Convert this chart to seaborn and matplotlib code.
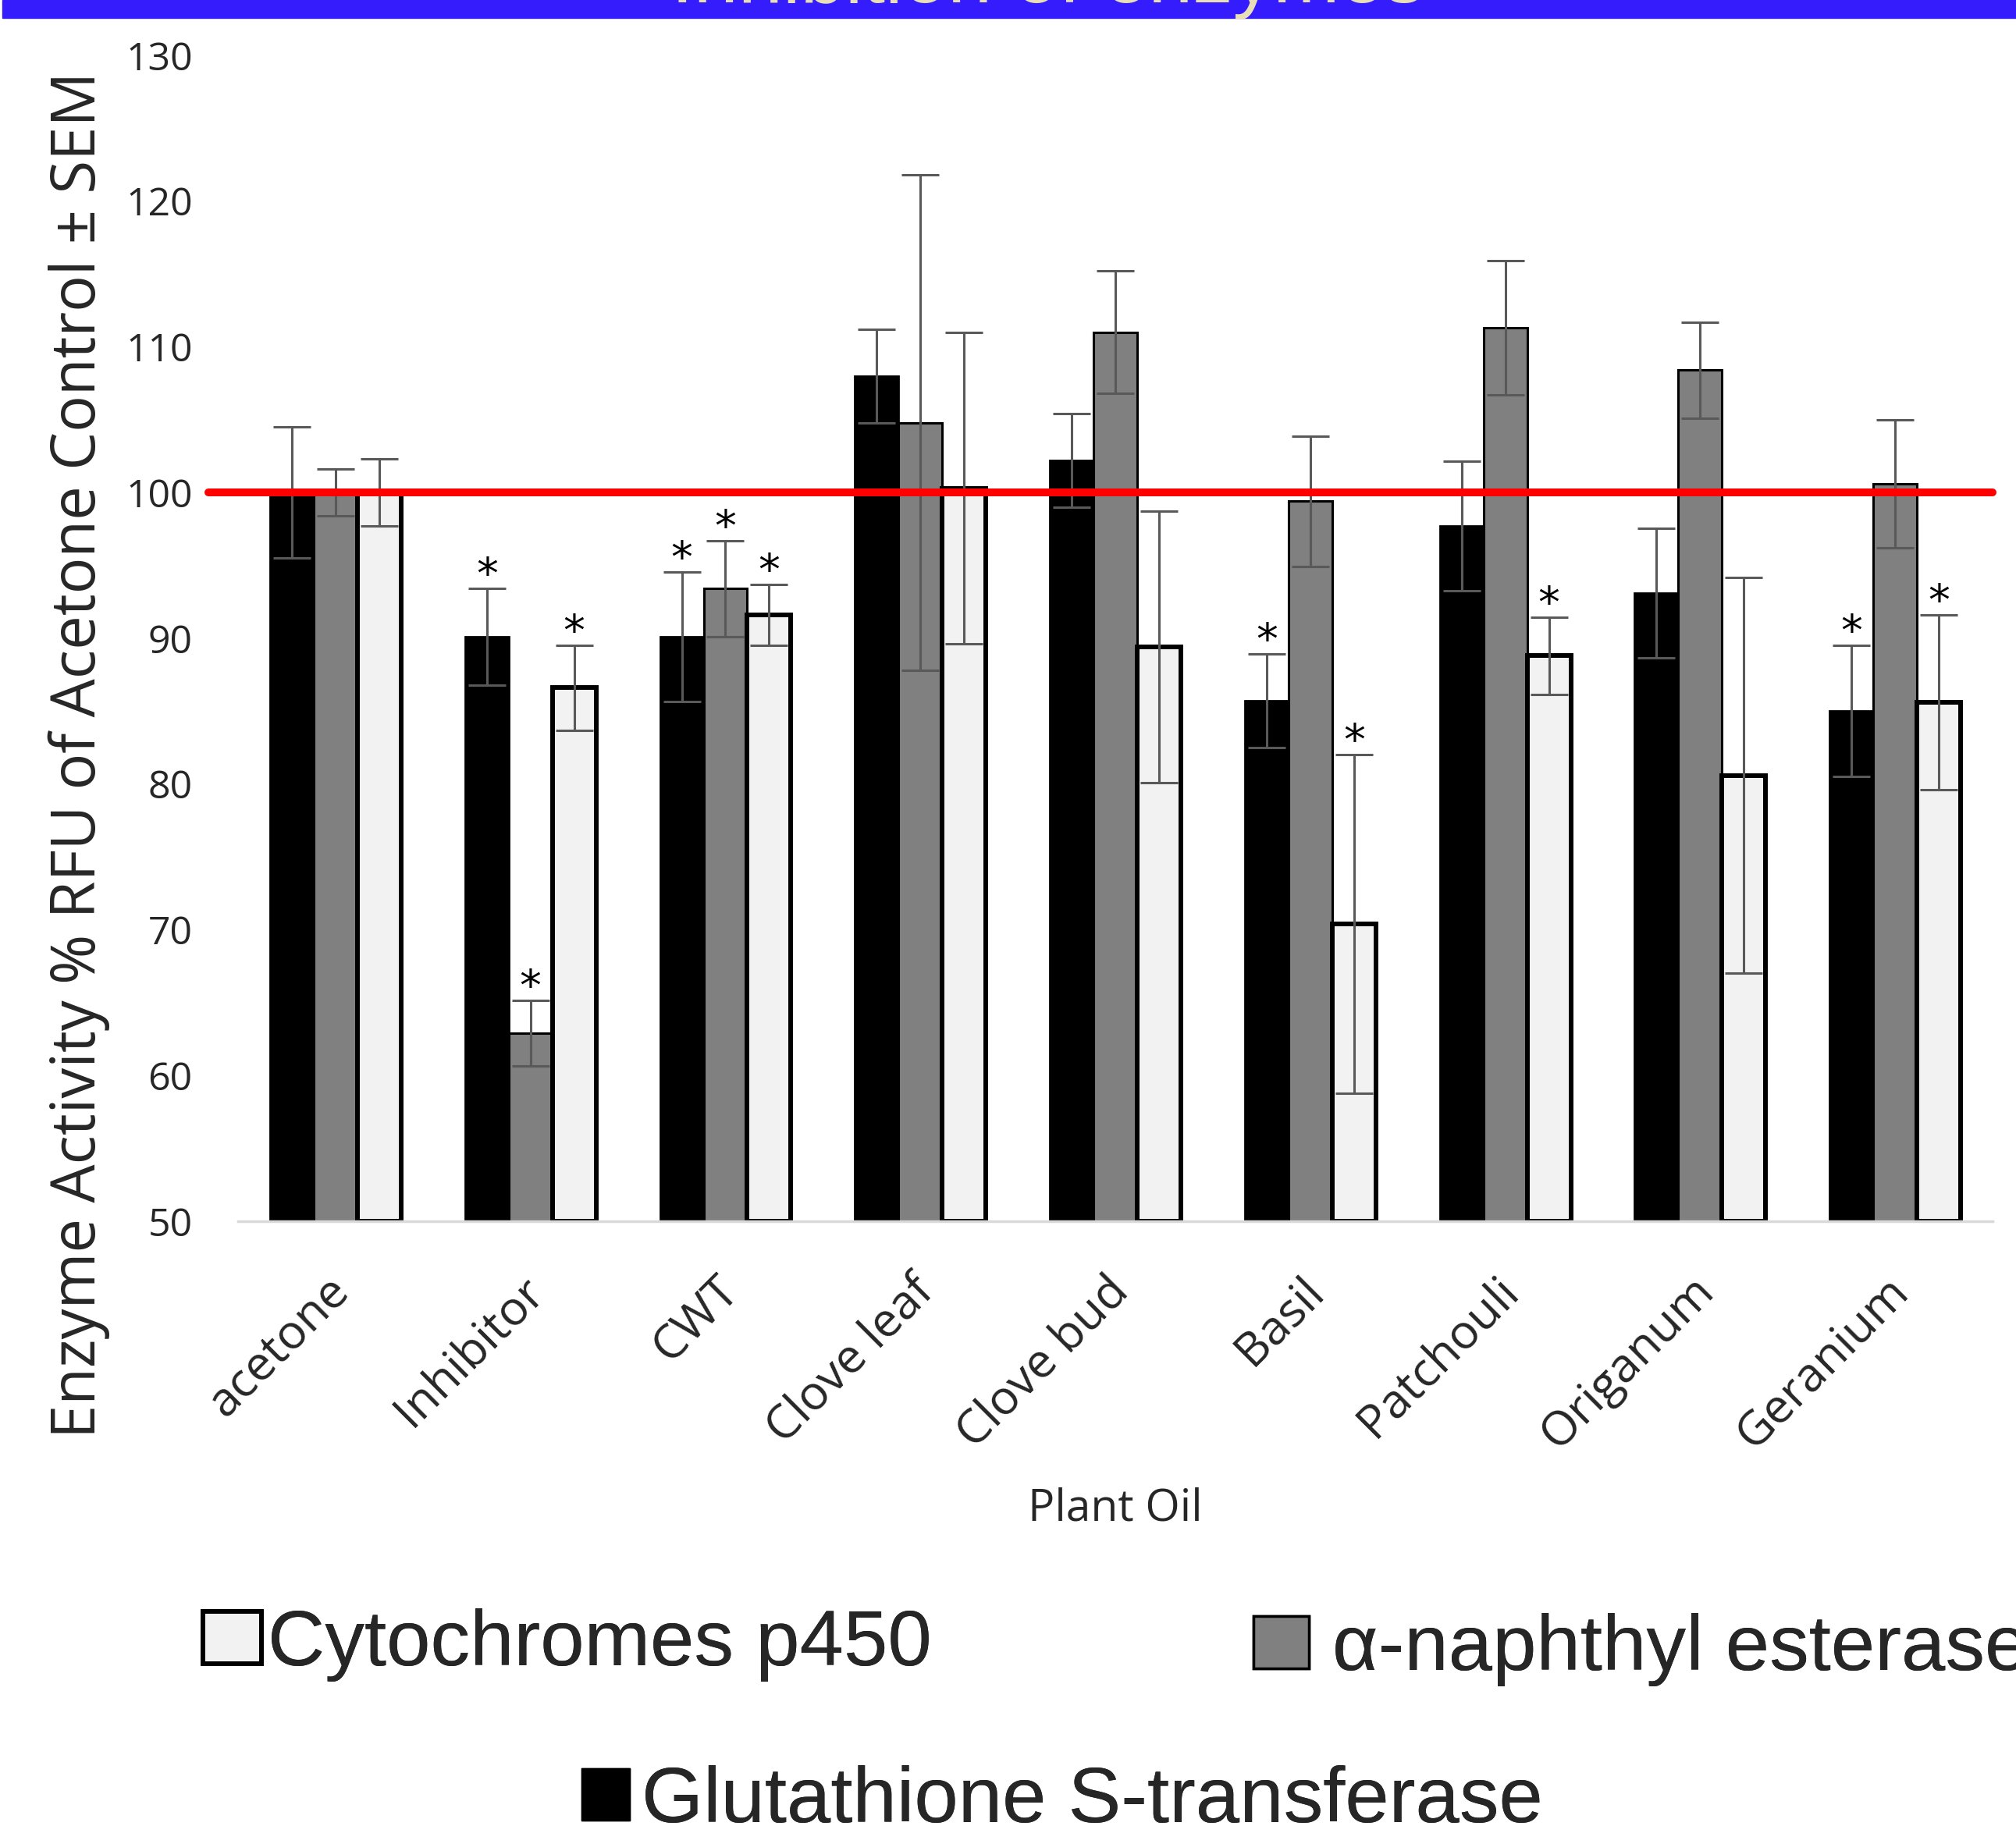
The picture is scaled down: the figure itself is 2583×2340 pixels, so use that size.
import numpy as np
import pandas as pd
import seaborn as sns
import matplotlib.pyplot as plt
from matplotlib.patches import Patch, Rectangle
from matplotlib import transforms

# values (% of acetone control)
oils = ["acetone", "Inhibitor", "CWT", "Clove leaf", "Clove bud",
        "Basil", "Patchouli", "Origanum", "Geranium"]
enzymes = ["Glutathione S-transferase", "α-naphthyl esterase", "Cytochromes p450"]

gst = [100, 90.1, 90.1, 108.0, 102.2, 85.7, 97.7, 93.1, 85.0]
gst_sem = [4.5, 3.3, 4.45, 3.2, 3.2, 3.2, 4.45, 4.45, 4.5]
gst_sig = [0, 1, 1, 0, 0, 1, 0, 0, 1]

est = [100, 62.9, 93.4, 104.8, 111.0, 99.4, 111.3, 108.4, 100.6]
est_sem = [1.6, 2.25, 3.3, 17.0, 4.2, 4.45, 4.6, 3.3, 4.4]
est_sig = [0, 1, 1, 0, 0, 0, 0, 0, 0]

p450 = [100, 86.6, 91.6, 100.3, 89.4, 70.4, 88.8, 80.6, 85.6]
p450_sem = [2.3, 2.9, 2.1, 10.7, 9.3, 11.6, 2.65, 13.6, 6.0]
p450_sig = [0, 1, 1, 0, 0, 1, 1, 0, 1]

yticks = [50, 60, 70, 80, 90, 100, 110, 120, 130]

colors = ["#000000", "#808080", "#F2F2F2"]
edge_lw = [2.0, 2.2, 4.3]

sns.set_style("white")
plt.rcParams['font.family'] = ['Open Sans', 'DejaVu Sans']

fig = plt.figure(figsize=(25.83, 23.40), dpi=100)
ax = fig.add_axes([0.1181, 0.3312, 0.8703, 0.6385])

df = pd.DataFrame({
    "oil": oils * 3,
    "enzyme": np.repeat(enzymes, len(oils)),
    "value": gst + est + p450,
})
sns.barplot(data=df, x="oil", y="value", hue="enzyme", order=oils, hue_order=enzymes,
            palette=colors, saturation=1, width=0.672, errorbar=None, legend=False,
            edgecolor="black", ax=ax)

ymin = yticks[0]
for cont, lw, sems, sig in zip(ax.containers, edge_lw,
                               [gst_sem, est_sem, p450_sem], [gst_sig, est_sig, p450_sig]):
    xs, vals = [], []
    for bar in cont:
        v = bar.get_height()
        xs.append(bar.get_x() + bar.get_width() / 2)
        vals.append(v)
        # start bars at the axis floor like the original, so the bottom edge shows
        bar.set_y(ymin)
        bar.set_height(v - ymin)
        bar.set_linewidth(lw)
    ax.errorbar(xs, vals, yerr=sems, fmt="none", ecolor="#595959", elinewidth=2.2,
                capsize=17, capthick=2.2, zorder=5)
    for x, v, s, f in zip(xs, vals, sems, sig):
        if f:
            ax.annotate("*", (x, v + s), ha="center", va="baseline", fontsize=40,
                        family="DejaVu Sans", color="black", zorder=6)

ax.axhline(100, xmin=-0.017, xmax=1, color="#FF0000", lw=7.2, clip_on=False, zorder=10)

ax.set_xlim(-0.5, len(oils) - 0.5)
ax.set_ylim(50, 130)
ax.set_yticks(yticks)
ax.set_xticks(range(len(oils)))
ax.set_xticklabels(oils, rotation=45, ha="right", va="center", rotation_mode="anchor")
ax.tick_params(axis="y", length=0, pad=42, labelsize=36)
ax.tick_params(axis="x", length=0, pad=58, labelsize=44)
shift = transforms.ScaledTranslation(8 / 100, 0, fig.dpi_scale_trans)
for lbl in ax.get_xticklabels():
    lbl.set_transform(lbl.get_transform() + shift)
for s in ["top", "right", "left"]:
    ax.spines[s].set_visible(False)
ax.spines["bottom"].set_color("#D9D9D9")
ax.spines["bottom"].set_linewidth(2.5)

ax.set_ylabel("Enzyme Activity % RFU of Acetone Control ± SEM", fontsize=56)
ax.yaxis.set_label_coords(-0.073, 0.40)
ax.set_xlabel("Plant Oil", fontsize=41)
ax.xaxis.set_label_coords(0.5, -0.2564)
ax.xaxis.label.set_va("baseline")

# title banner, mostly cut off at the top edge
fig.add_artist(Rectangle((3 / 2583, 1 - 23 / 2340), 1, 23 / 2340, transform=fig.transFigure,
                         color="#341CFC", zorder=0))
fig.text(1343 / 2583, 1 - 3 / 2340, "Inhibition of enzymes", ha="center", va="baseline",
         fontsize=74, color="#E8DFB6", family="Liberation Sans")

# legend: two entries on the first row, one centred below
handles = {
    enzymes[2]: Patch(facecolor=colors[2], edgecolor="black", linewidth=4.3),
    enzymes[1]: Patch(facecolor=colors[1], edgecolor="black", linewidth=2.5),
    enzymes[0]: Patch(facecolor=colors[0], edgecolor="black", linewidth=1),
}
leg_kw = dict(frameon=False, loc="lower left", borderpad=0, borderaxespad=0,
              prop={"family": "Liberation Sans", "size": 73})
spots = [(enzymes[2], 260, 2155, 0.74, 0.64, 0.08),
         (enzymes[1], 1606, 2161, 0.70, 0.63, 0.3),
         (enzymes[0], 745, 2356, 0.61, 0.65, 0.15)]
for name, x0, y0, hl, hh, tp in spots:
    leg = fig.legend([handles[name]], [name], bbox_to_anchor=(x0 / 2583, 1 - y0 / 2340),
                     handlelength=hl, handleheight=hh, handletextpad=tp, **leg_kw)
    fig.add_artist(leg)

fig.savefig("out.png", dpi=100)
